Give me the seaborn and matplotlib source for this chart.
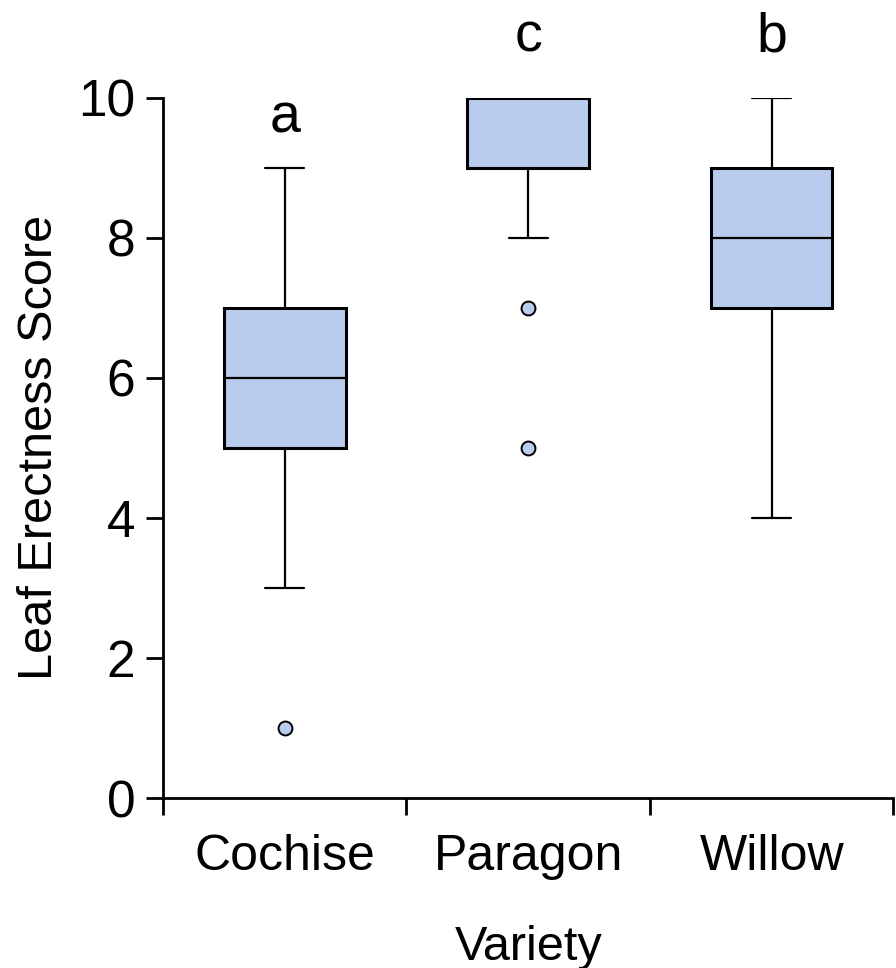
import numpy as np
import pandas as pd
import matplotlib
matplotlib.use("Agg")
import matplotlib.pyplot as plt
import seaborn as sns

# scores per variety
cochise = [1, 3, 4, 5, 5, 5, 6, 6, 6, 6, 7, 7, 7, 8, 9]
paragon = [5, 7, 8, 9, 9, 9, 10, 10, 10, 10, 10, 10, 10, 10, 10]
willow = [4, 6, 7, 7, 7, 8, 8, 8, 8, 8, 9, 9, 9, 10, 10]
varieties = ["Cochise", "Paragon", "Willow"]
letters = ["a", "c", "b"]
letter_y = [9.5, 10.66, 10.66]

df = pd.DataFrame({
    "Variety": np.repeat(varieties, [len(cochise), len(paragon), len(willow)]),
    "Score": cochise + paragon + willow,
})

sns.set_style("ticks")
plt.rcParams["font.family"] = ["Liberation Sans", "DejaVu Sans"]
plt.rcParams["text.color"] = "black"
plt.rcParams["axes.labelcolor"] = "black"
plt.rcParams["xtick.color"] = "black"
plt.rcParams["ytick.color"] = "black"

box_color = "#B9CCEE"
fig = plt.figure(figsize=(8.96, 9.68), dpi=100)
ax = fig.add_axes([0.182, 0.1756, 0.815, 0.7234])

sns.boxplot(data=df, x="Variety", y="Score", order=varieties, ax=ax,
            color=box_color, width=0.5, linecolor="black", linewidth=1.6,
            saturation=1, capwidths=0.16,
            boxprops=dict(linewidth=2.2),
            medianprops=dict(linewidth=1.6),
            flierprops=dict(marker="o", markersize=10, markerfacecolor=box_color,
                            markeredgecolor="black", markeredgewidth=1.4))

for i, (lab, yy) in enumerate(zip(letters, letter_y)):
    ax.text(i, yy, lab, ha="center", va="baseline", fontsize=40, clip_on=False)

ax.set_ylim(0, 10)
ax.set_xlim(-0.5, 2.5)
ax.set_yticks(range(0, 11, 2))
ax.set_xticks([-0.5, 0.5, 1.5, 2.5])
ax.set_xticklabels([])
ax.set_xticks([0, 1, 2], varieties, minor=True)
ax.tick_params(axis="x", which="minor", length=0, pad=26, labelsize=36)
ax.tick_params(axis="x", which="major", length=12, width=2)
ax.tick_params(axis="y", length=12, width=2, labelsize=37, pad=8)
for s in ["top", "right"]:
    ax.spines[s].set_visible(False)
for s in ["left", "bottom"]:
    ax.spines[s].set_linewidth(2)
    ax.spines[s].set_color("black")

ax.set_xlabel("Variety", fontsize=35, labelpad=32)
ax.set_ylabel("Leaf Erectness Score", fontsize=35, labelpad=12)

fig.savefig("out.png", dpi=100)
